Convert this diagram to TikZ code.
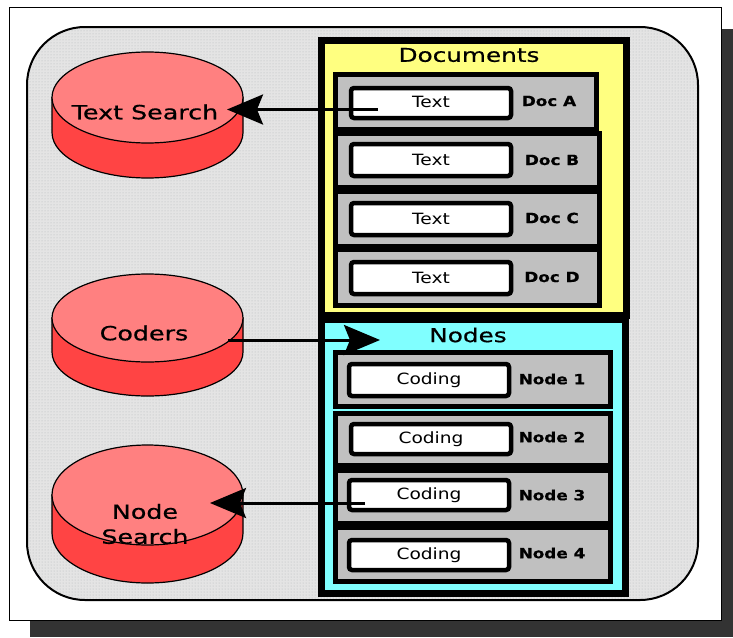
\documentclass[tikz,border=0pt]{standalone}
\usepackage{fontspec}
\usetikzlibrary{arrows.meta,patterns}
\newfontfamily\labelfont[FakeStretch=1.3,FakeBold=0.6]{DejaVu Sans}
\newfontfamily\rowfont[FakeStretch=1.2]{DejaVu Sans}
\newfontfamily\rowbold[FakeStretch=1.2,FakeBold=0.6]{DejaVu Sans Bold}
\definecolor{shadowc}{HTML}{333333}
\definecolor{panelc}{HTML}{E4E4E4}
\definecolor{dotc}{HTML}{B4B8BC}
\definecolor{docc}{HTML}{FFFF80}
\definecolor{nodec}{HTML}{80FFFF}
\definecolor{rowc}{HTML}{C0C0C0}
\definecolor{topc}{HTML}{FF8080}
\definecolor{sidec}{HTML}{FF4444}
\tikzset{
 rowbox/.style={draw=black,line width=5pt,fill=rowc},
 fieldbox/.style={draw=black,line width=4.5pt,fill=white,rounded corners=3pt,rectangle,inner sep=0pt,minimum width=160pt,font={\rowfont\fontsize{15.5}{17}\selectfont}},
 rowlabel/.style={inner sep=0pt,font={\rowbold\fontsize{14}{16}\selectfont}},
 titlelabel/.style={inner sep=0pt,font={\labelfont\fontsize{19}{22}\selectfont}},
 disklabel/.style={inner sep=0pt,align=center,font={\labelfont\fontsize{19.5}{25}\selectfont}},
 bigarrow/.style={line width=3pt,-{Stealth[length=36pt,width=30pt,inset=6pt]}},
 panelbox/.style={draw=black,line width=7pt}
}
\newcommand{\diskshape}[4]{% cx, cy top, ry, side height
 \fill[sidec,draw=black,line width=1.2pt] (#1-95.5,#2) -- (#1-95.5,#2+#4) arc[start angle=180,end angle=0,x radius=95.5,y radius=#3] -- (#1+95.5,#2) -- cycle;
 \fill[topc,draw=black,line width=1.2pt] (#1,#2) ellipse[x radius=95.5,y radius=#3];
}
\begin{document}
\begin{tikzpicture}[x=1pt,y=-1pt]
\useasboundingbox (0,0) rectangle (733,637);
\fill[white] (0,0) rectangle (733,637);
\fill[shadowc] (30,29) rectangle (733,637);
\draw[black,line width=0.8pt,fill=white] (9,7) rectangle (721,620.5);
\draw[black,line width=2pt,fill=panelc,rounded corners=58pt] (27,27) rectangle (698,600);
\fill[pattern=dots,pattern color=dotc,rounded corners=58pt] (28,28) rectangle (697,599);
% panels
\draw[panelbox,fill=docc] (321.5,40.5) rectangle (626.5,315.5);
\draw[panelbox,fill=nodec] (321.5,319) rectangle (625,593);
\node[titlelabel] (doctitle) at (469,55) {Documents};
\node[titlelabel] (nodetitle) at (468,335) {Nodes};
% document rows
\draw[rowbox] (335.5,74.5) rectangle (596.5,129.5);
\draw[rowbox] (335.5,133.5) rectangle (599,187.5);
\draw[rowbox] (335.5,191.5) rectangle (599,246.5);
\draw[rowbox] (335.5,249.5) rectangle (599,305.5);
\node[fieldbox,minimum height=30pt] (texta) at (431,103) {\raisebox{3pt}{Text}};
\node[fieldbox,minimum height=32pt] (textb) at (431,160) {Text};
\node[fieldbox,minimum height=32pt] (textc) at (431,219) {Text};
\node[fieldbox,minimum height=32pt] (textd) at (431,278) {Text};
\node[rowlabel] (doca) at (549,101) {Doc A};
\node[rowlabel] (docb) at (552,160) {Doc B};
\node[rowlabel] (docc1) at (552,218) {Doc C};
\node[rowlabel] (docd) at (552,277) {Doc D};
% node rows
\draw[rowbox] (335.5,352.5) rectangle (610.5,406.5);
\draw[rowbox] (335.5,413.5) rectangle (610.5,465.5);
\draw[rowbox] (335.5,470.5) rectangle (610.5,523.5);
\draw[rowbox] (335.5,527.5) rectangle (610.5,581.5);
\node[fieldbox,minimum height=32pt] (codinga) at (429,380) {\raisebox{2pt}{Coding}};
\node[fieldbox,minimum height=30pt] (codingb) at (431,439) {\raisebox{3pt}{Coding}};
\node[fieldbox,minimum height=30pt] (codingc) at (429,495) {\raisebox{2pt}{Coding}};
\node[fieldbox,minimum height=30pt] (codingd) at (429,555) {\raisebox{3pt}{Coding}};
\node[rowlabel] (nodea) at (552,379) {Node 1};
\node[rowlabel] (nodeb) at (552,437) {Node 2};
\node[rowlabel] (nodec1) at (552,495) {Node 3};
\node[rowlabel] (noded) at (552,553) {Node 4};
% disks
\diskshape{147.5}{97.5}{45.5}{35}
\diskshape{147.5}{318}{44}{34}
\diskshape{147.5}{495}{50}{38}
\node[disklabel] (textsearch) at (145,112) {Text Search};
\node[disklabel] (coders) at (144,333) {Coders};
\node[disklabel] (nodesearch) at (145,524) {Node\\Search};
% connector ends
\coordinate (fromtext) at (378,109.5);
\coordinate (totext) at (227,109.5);
\coordinate (fromcoders) at (228,340);
\coordinate (tonodes) at (380,340);
\coordinate (fromcoding) at (365,503);
\coordinate (tosearch) at (210,503);
\draw[bigarrow] (fromtext) -- (totext);
\draw[bigarrow] (fromcoders) -- (tonodes);
\draw[bigarrow] (fromcoding) -- (tosearch);
\end{tikzpicture}
\end{document}
